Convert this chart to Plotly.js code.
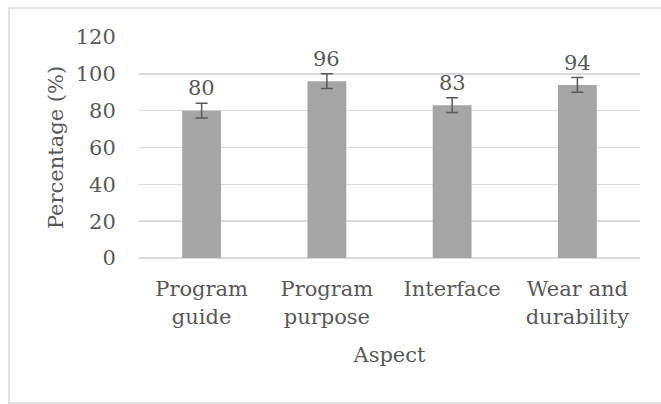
<!DOCTYPE html>
<html>
<head>
<meta charset="utf-8">
<script src="https://cdn.plot.ly/plotly-3.0.1.min.js"></script>
<style>html,body{margin:0;padding:0;background:#fff;}#chart{width:661px;height:404px;}</style>
</head>
<body>
<div id="chart"></div>
<script>
const categories = ["Program<br>guide", "Program<br>purpose", "Interface", "Wear and<br>durability"];
const values = [80, 96, 83, 94];
const errors = [4, 4, 4, 4];
const yTicks = [0, 20, 40, 60, 80, 100, 120];

const FONT = "DejaVu Serif";
const TXT = "#595959";
const SIZE = 21;

const trace = {
  type: "bar",
  x: categories,
  y: values,
  marker: {color: "#a5a5a5"},
  width: 0.31,
  error_y: {type: "data", array: errors, visible: true, color: "#595959", thickness: 1.5, width: 6},
  hoverinfo: "none"
};

const annotations = categories.map((c, i) => ({
  x: c, y: values[i] + errors[i], xref: "x", yref: "y",
  text: String(values[i]), showarrow: false, yanchor: "bottom", yshift: 1,
  font: {family: FONT, size: SIZE, color: TXT}
}));

const layout = {
  width: 661, height: 404,
  margin: {l: 139, r: 21, t: 37, b: 146},
  paper_bgcolor: "#fff", plot_bgcolor: "#fff",
  showlegend: false,
  font: {family: FONT, size: SIZE, color: TXT},
  xaxis: {
    type: "category",
    showgrid: false, zeroline: false,
    showline: false,
    ticks: "outside", ticklen: 12, tickcolor: "rgba(0,0,0,0)",
    tickfont: {family: FONT, size: SIZE, color: TXT},
    title: {text: "Aspect", font: {family: FONT, size: SIZE, color: TXT}, standoff: 19}
  },
  yaxis: {
    range: [0, 120],
    tickvals: yTicks,
    ticktext: yTicks.map(String),
    showgrid: true, gridcolor: "#d9d9d9", gridwidth: 1.5,
    zeroline: true, zerolinecolor: "#d9d9d9", zerolinewidth: 1.5,
    showline: false,
    ticks: "outside", ticklen: 18, tickcolor: "rgba(0,0,0,0)",
    tickfont: {family: FONT, size: SIZE, color: TXT},
    title: {text: "Percentage (%)", font: {family: FONT, size: SIZE, color: TXT}, standoff: 6}
  },
  annotations: annotations,
  shapes: [{
    type: "rect", xref: "paper", yref: "paper", layer: "below",
    x0: -130/501, x1: 1.2, y0: -145/221, y1: 1 + 29/221,
    line: {color: "#d9d9d9", width: 1.5}, fillcolor: "rgba(0,0,0,0)"
  }]
};

Plotly.newPlot("chart", [trace], layout, {staticPlot: true, displayModeBar: false});
</script>
</body>
</html>
